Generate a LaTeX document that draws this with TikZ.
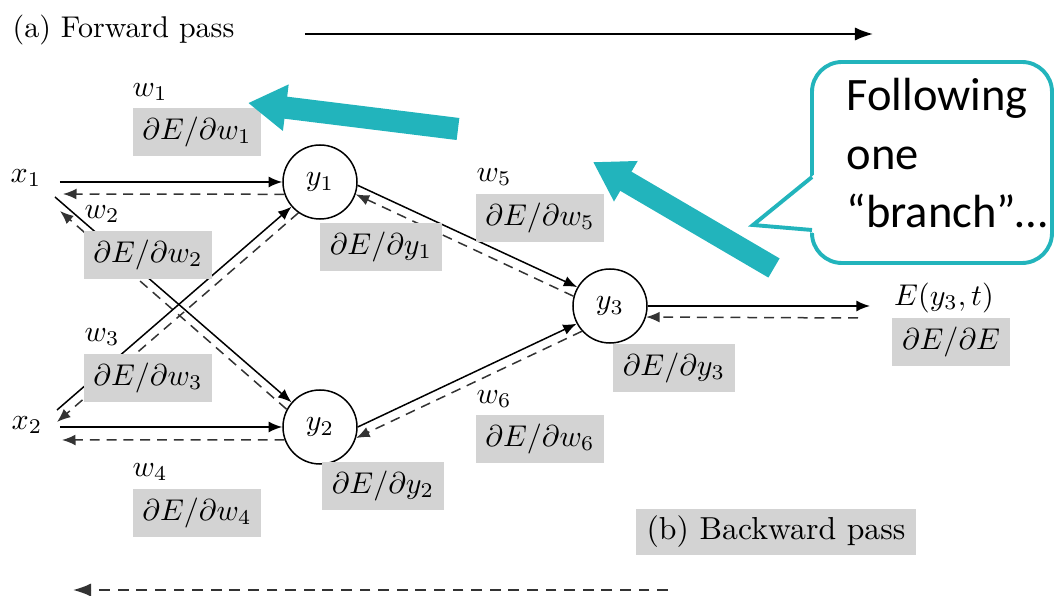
\documentclass[tikz,border=0pt]{standalone}
\usepackage{fontspec}
\newfontfamily\calloutfont{Carlito}
\usetikzlibrary{arrows.meta}
\definecolor{tealc}{RGB}{34,180,188}
\definecolor{boxgray}{RGB}{211,211,211}
\begin{document}
\begin{tikzpicture}[x=0.33333pt, y=-0.33333pt,
  lab/.style={font=\fontsize{10.4}{12}\selectfont, inner sep=0pt},
  gbox/.style={fill=boxgray, inner xsep=3.3pt, inner ysep=3pt, text height=7.6pt, text depth=2.6pt, font=\fontsize{10.4}{12}\selectfont},
  neuron/.style={circle, draw, line width=0.5pt, minimum size=24.67pt, inner sep=0pt, font=\fontsize{10.4}{12}\selectfont},
  fwd/.style={line width=0.5pt, -{Latex[length=4.5pt,width=3.6pt]}},
  bwd/.style={line width=0.5pt, black!80, dash pattern=on 3.3pt off 2.3pt, -{Latex[length=4.5pt,width=3.6pt]}},
  tarrow/.style={tealc, line width=7.4pt, -{Triangle[length=12.7pt,width=14.7pt]}},
  callline/.style={draw=tealc, line width=1.3pt}
]
\useasboundingbox (0,0) rectangle (1054,596);

% titles and global arrows
\node[font=\fontsize{10}{12}\selectfont, inner sep=0pt, anchor=west] (fwdlab) at (12,30) {(a) Forward pass};
\coordinate (fa) at (305,34);
\coordinate (fb) at (873,34);
\draw[line width=0.6pt, -{Latex[length=6pt,width=4.4pt]}] (fa) -- (fb);

\coordinate (ba) at (668,590);
\coordinate (bb) at (73,590);
\draw[line width=0.6pt, black!80, dash pattern=on 3.6pt off 2.6pt, -{Latex[length=6pt,width=4.4pt]}] (ba) -- (bb);

% inputs and neurons
\node[lab] (x1) at (26,178) {$x_1$};
\node[lab] (x2) at (27,425) {$x_2$};
\node[neuron] (y1) at (320,182) {$y_1$};
\node[neuron] (y2) at (320,427) {$y_2$};
\node[neuron] (y3) at (610,306) {$y_3$};
\node[lab] (E) at (944,298) {$E(y_3,t)$};

% connectors x -> y
\draw[fwd] ([shift={(34,4)}]x1.center) -- (y1.west);
\draw[bwd] (y1.199) -- ([shift={(37,16)}]x1.center);
\draw[fwd] ([shift={(29,19)}]x1.center) -- (y2.139);
\draw[bwd] (y2.152) -- ([shift={(34,33)}]x1.center);
\draw[fwd] ([shift={(33,2)}]x2.center) -- (y2.west);
\draw[bwd] (y2.200) -- ([shift={(35,15)}]x2.center);
\draw[fwd] ([shift={(30,-15)}]x2.center) -- (y1.221);
\draw[bwd] (y1.235) -- ([shift={(30,-3)}]x2.center);

% connectors y -> y3
\draw[fwd] (y1.-5) -- (y3.150);
\draw[bwd] (y3.165) -- (y1.-19);
\draw[fwd] (y2.0) -- (y3.208);
\draw[bwd] (y3.222) -- (y2.-17);

% output
\draw[fwd] (y3.east) -- ([shift={(-74,8)}]E.center);
\draw[bwd] ([shift={(-86,20)}]E.center) -- (y3.-17);

% weight labels (drawn over the connectors)
\node[lab] (w1) at (150,92) {$w_1$};
\node[gbox] (g1) at (197,132) {$\partial E/\partial w_1$};
\node[lab] (w2) at (102,214) {$w_2$};
\node[gbox] (g2) at (148,255) {$\partial E/\partial w_2$};
\node[lab] (w3) at (102,337) {$w_3$};
\node[gbox] (g3) at (148,378) {$\partial E/\partial w_3$};
\node[lab] (w4) at (150,472) {$w_4$};
\node[gbox] (g4) at (197,513) {$\partial E/\partial w_4$};
\node[lab] (w5) at (494,177) {$w_5$};
\node[gbox] (g5) at (540,218) {$\partial E/\partial w_5$};
\node[lab] (w6) at (494,399) {$w_6$};
\node[gbox] (g6) at (540,439) {$\partial E/\partial w_6$};
\node[gbox] (gy1) at (381,247) {$\partial E/\partial y_1$};
\node[gbox] (gy2) at (383,486) {$\partial E/\partial y_2$};
\node[gbox] (gy3) at (674,368) {$\partial E/\partial y_3$};
\node[gbox] (gE) at (951,342) {$\partial E/\partial E$};
\node[gbox, font=\fontsize{10.6}{12}\selectfont, text height=8pt, text depth=2.7pt, inner xsep=3.5pt, inner ysep=2.2pt] (bwdlab) at (776,532) {(b) Backward pass};

% teal arrows
\coordinate (t1a) at (458,129);
\coordinate (t1b) at (248,103);
\coordinate (t2a) at (774,268);
\coordinate (t2b) at (593,162);
\draw[tarrow] (t1a) -- (t1b);
\draw[tarrow] (t2a) -- (t2b);

% callout
\node[callline, rounded corners=10pt, fill=white, minimum width=80pt, minimum height=67pt, inner sep=0pt] (cb) at (932,162.5) {};
\coordinate (cp1) at (812,177);
\coordinate (cpt) at (753,225);
\coordinate (cp2) at (812,230);
\fill[white] (815,174) -- (cpt) -- (815,233) -- cycle;
\draw[callline, line join=miter] (cp1) -- (cpt) -- (cp2);
\node[font=\calloutfont\fontsize{15.5}{19.4}\selectfont, align=left, anchor=north west, inner sep=0pt] (ct) at (846,78) {Following\\one\\“branch”…};
\end{tikzpicture}
\end{document}
